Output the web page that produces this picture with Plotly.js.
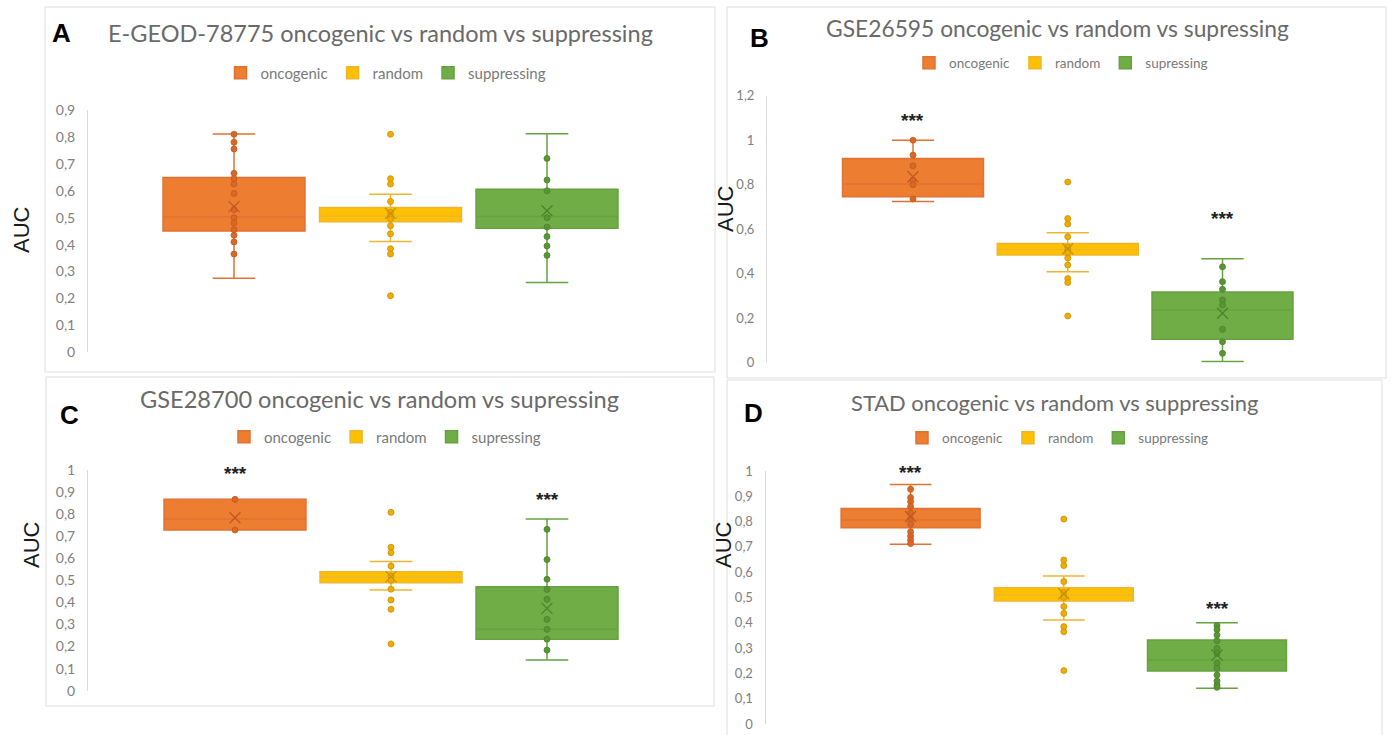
<!DOCTYPE html>
<html>
<head>
<meta charset="utf-8">
<script src="https://cdn.plot.ly/plotly-3.0.1.min.js"></script>
<style>html,body{margin:0;padding:0;background:#fff;}#chart{width:1393px;height:735px;}</style>
</head>
<body>
<div id="chart"></div>
<script>
// ---------------- DATA ----------------
const categories = ['oncogenic', 'random', 'suppressing'];
const panelLetters = ['A', 'B', 'C', 'D'];
const panelTitles = [
  'E-GEOD-78775 oncogenic vs random vs suppressing',
  'GSE26595 oncogenic vs random vs supressing',
  'GSE28700 oncogenic vs random vs supressing',
  'STAD oncogenic vs random vs suppressing'
];
const legendNamesA = ['oncogenic', 'random', 'suppressing'];
const legendNamesB = ['oncogenic', 'random', 'supressing'];
const legendNamesC = ['oncogenic', 'random', 'supressing'];
const legendNamesD = ['oncogenic', 'random', 'suppressing'];
const yTicksA = [0, 0.1, 0.2, 0.3, 0.4, 0.5, 0.6, 0.7, 0.8, 0.9];
const yTicksB = [0, 0.2, 0.4, 0.6, 0.8, 1, 1.2];
const yTicksC = [0, 0.1, 0.2, 0.3, 0.4, 0.5, 0.6, 0.7, 0.8, 0.9, 1];
const yTicksD = [0, 0.1, 0.2, 0.3, 0.4, 0.5, 0.6, 0.7, 0.8, 0.9, 1];

// Panel A: E-GEOD-78775   [oncogenic, random, suppressing]
const A_q1 = [0.451, 0.485, 0.461];
const A_median = [0.503, 0.505, 0.504];
const A_q3 = [0.649, 0.538, 0.606];
const A_lower = [0.275, 0.412, 0.259];
const A_upper = [0.811, 0.587, 0.812];
const A_mean = [0.541, 0.516, 0.526];
const A_oncPts = [0.81, 0.78, 0.755, 0.665, 0.645, 0.625, 0.59, 0.53, 0.5, 0.48, 0.455, 0.435, 0.41, 0.365];
const A_rndPts = [0.81, 0.645, 0.625, 0.56, 0.52, 0.505, 0.495, 0.47, 0.44, 0.385, 0.365, 0.21];
const A_supPts = [0.72, 0.64, 0.6, 0.5, 0.465, 0.43, 0.395, 0.36];
const A_sig = ['', '', ''];
const A_sigY = [null, null, null];

// Panel B: GSE26595
const B_q1 = [0.746, 0.484, 0.105];
const B_median = [0.803, 0.509, 0.237];
const B_q3 = [0.918, 0.536, 0.318];
const B_lower = [0.725, 0.409, 0.005];
const B_upper = [1.0, 0.584, 0.467];
const B_mean = [0.836, 0.512, 0.222];
const B_oncPts = [1.0, 0.933, 0.885, 0.82, 0.8, 0.736];
const B_rndPts = [0.812, 0.648, 0.623, 0.566, 0.52, 0.505, 0.495, 0.47, 0.439, 0.378, 0.36, 0.21];
const B_supPts = [0.431, 0.364, 0.33, 0.282, 0.259, 0.15, 0.094, 0.042];
const B_sig = ['***', '', '***'];
const B_sigY = [1.094, null, 0.654];

// Panel C: GSE28700
const C_q1 = [0.728, 0.489, 0.233];
const C_median = [0.778, 0.514, 0.278];
const C_q3 = [0.867, 0.539, 0.471];
const C_lower = [0.728, 0.456, 0.139];
const C_upper = [0.867, 0.585, 0.778];
const C_mean = [0.784, 0.517, 0.373];
const C_oncPts = [0.867, 0.728];
const C_rndPts = [0.808, 0.65, 0.625, 0.565, 0.52, 0.5, 0.46, 0.411, 0.369, 0.212];
const C_supPts = [0.731, 0.594, 0.505, 0.459, 0.414, 0.323, 0.278, 0.233, 0.184];
const C_sig = ['***', '', '***'];
const C_sigY = [0.99, null, 0.87];

// Panel D: STAD
const D_q1 = [0.776, 0.486, 0.209];
const D_median = [0.806, 0.51, 0.253];
const D_q3 = [0.852, 0.539, 0.332];
const D_lower = [0.71, 0.411, 0.141];
const D_upper = [0.947, 0.585, 0.4];
const D_mean = [0.82, 0.515, 0.273];
const D_oncPts = [0.928, 0.895, 0.879, 0.86, 0.833, 0.81, 0.79, 0.76, 0.743, 0.727, 0.713];
const D_rndPts = [0.81, 0.648, 0.626, 0.563, 0.52, 0.5, 0.464, 0.437, 0.385, 0.365, 0.211];
const D_supPts = [0.389, 0.374, 0.352, 0.329, 0.299, 0.279, 0.24, 0.22, 0.194, 0.17, 0.154, 0.145];
const D_sig = ['***', '', '***'];
const D_sigY = [0.997, null, 0.46];

// ---------------- STYLE ----------------
const W = 1393, H = 735;
const fx = p => p / W;
const fy = p => 1 - p / H;
const fillColors = ['rgb(237,125,49)', 'rgb(255,192,0)', 'rgb(112,173,71)'];
const lineColors = ['rgb(224,114,50)', 'rgb(238,182,48)', 'rgb(102,162,64)'];
const ptColors = ['rgb(222,102,35)', 'rgb(240,172,0)', 'rgb(88,150,50)'];
const meanColors = ['rgb(190,90,35)', 'rgb(200,145,0)', 'rgb(75,130,45)'];

// per-panel geometry (pixels)
const geom = [
  {axL: 88, axR: 693, c0: 234, step: 156.5, y0: 352.3, yTop: 110, yMax: 0.9, bw: 0.907, tickSize: 14,
   border: [45, 7, 715, 372], letter: [61, 33], title: [380, 33], titleSize: 23.5, legend: [386, 73], legSize: 15, auc: [21, 230]},
  {axL: 767, axR: 1369, c0: 913, step: 154.75, y0: 362.7, yTop: 95.7, yMax: 1.2, bw: 0.911, tickSize: 13,
   border: [727, 7, 1386, 378], letter: [759, 38], title: [1057, 28], titleSize: 22.8, legend: [1061, 63], legSize: 13.5, auc: [725, 209]},
  {axL: 88, axR: 694, c0: 235, step: 156, y0: 690.7, yTop: 470, yMax: 1.0, bw: 0.91, tickSize: 14,
   border: [46, 377, 714, 706], letter: [69, 415], title: [379, 399], titleSize: 23.6, legend: [385, 437], legSize: 15, auc: [31, 545]},
  {axL: 765.5, axR: 1362, c0: 910.6, step: 153.2, y0: 724, yTop: 471, yMax: 1.0, bw: 0.907, tickSize: 13,
   border: [727, 380, 1382, 740], letter: [753, 413], title: [1054, 402], titleSize: 21.9, legend: [1058, 438], legSize: 13.5, auc: [723, 545]}
];

const panels = [
  {q1: A_q1, med: A_median, q3: A_q3, lo: A_lower, hi: A_upper, mean: A_mean, pts: [A_oncPts, A_rndPts, A_supPts], names: legendNamesA, sig: A_sig, sigY: A_sigY, ticks: yTicksA},
  {q1: B_q1, med: B_median, q3: B_q3, lo: B_lower, hi: B_upper, mean: B_mean, pts: [B_oncPts, B_rndPts, B_supPts], names: legendNamesB, sig: B_sig, sigY: B_sigY, ticks: yTicksB},
  {q1: C_q1, med: C_median, q3: C_q3, lo: C_lower, hi: C_upper, mean: C_mean, pts: [C_oncPts, C_rndPts, C_supPts], names: legendNamesC, sig: C_sig, sigY: C_sigY, ticks: yTicksC},
  {q1: D_q1, med: D_median, q3: D_q3, lo: D_lower, hi: D_upper, mean: D_mean, pts: [D_oncPts, D_rndPts, D_supPts], names: legendNamesD, sig: D_sig, sigY: D_sigY, ticks: yTicksD}
];

const FONT = 'Lato, "Open Sans", sans-serif';
const traces = [];
const layout = {
  width: W, height: H,
  margin: {l: 0, r: 0, t: 0, b: 0},
  paper_bgcolor: '#fff', plot_bgcolor: 'rgba(0,0,0,0)',
  separators: ', ',
  showlegend: true,
  font: {family: FONT, color: '#777'},
  shapes: [], annotations: []
};

panels.forEach((p, i) => {
  const g = geom[i];
  const sfx = i === 0 ? '' : String(i + 1);
  const xa = 'x' + sfx, ya = 'y' + sfx;
  const legId = 'legend' + sfx;
  const left = -(g.c0 - g.axL) / g.step;
  const right = (g.axR - g.axL) / g.step + left;

  layout['xaxis' + sfx] = {
    domain: [fx(g.axL), fx(g.axR)], anchor: ya, type: 'category',
    categoryorder: 'array', categoryarray: categories,
    range: [left, right], showline: false, showgrid: false, zeroline: false,
    showticklabels: false, ticks: '', fixedrange: true
  };
  layout['yaxis' + sfx] = {
    domain: [fy(g.y0), fy(g.yTop)], anchor: xa, range: [0, g.yMax],
    tickmode: 'array', tickvals: p.ticks,
    showline: true, linecolor: '#d9d9d9', linewidth: 1,
    showgrid: false, zeroline: false, ticks: '', ticklabelstandoff: 9,
    tickfont: {family: FONT, size: g.tickSize, color: '#808080'}, fixedrange: true
  };
  layout[legId] = {
    x: fx(g.legend[0]), y: fy(g.legend[1]), xanchor: 'center', yanchor: 'middle',
    orientation: 'h', bgcolor: 'rgba(0,0,0,0)', itemclick: false, itemdoubleclick: false,
    font: {family: FONT, size: g.legSize, color: '#7a7a7a'}, tracegroupgap: 0
  };

  categories.forEach((cat, k) => {
    traces.push({
      type: 'box', name: p.names[k], legend: legId, xaxis: xa, yaxis: ya,
      x: [cat], q1: [p.q1[k]], median: [p.med[k]], q3: [p.q3[k]],
      lowerfence: [p.lo[k]], upperfence: [p.hi[k]],
      width: g.bw, whiskerwidth: 0.3, boxpoints: false,
      fillcolor: fillColors[k], line: {color: lineColors[k], width: 1.5},
      hoverinfo: 'skip'
    });
    traces.push({
      type: 'scatter', mode: 'markers', showlegend: false, xaxis: xa, yaxis: ya,
      x: p.pts[k].map(() => cat), y: p.pts[k],
      marker: {size: 6, color: ptColors[k], line: {color: meanColors[k], width: 0.8}},
      hoverinfo: 'skip'
    });
    traces.push({
      type: 'scatter', mode: 'markers', showlegend: false, xaxis: xa, yaxis: ya,
      x: [cat], y: [p.mean[k]],
      marker: {size: 11, symbol: 'x-thin-open', color: meanColors[k], line: {color: meanColors[k], width: 1.3}},
      hoverinfo: 'skip'
    });
    if (p.sig[k]) {
      layout.annotations.push({
        xref: xa, yref: ya, x: cat, y: p.sigY[k], text: '<b>' + p.sig[k] + '</b>',
        showarrow: false, yanchor: 'middle', yshift: -1,
        font: {family: 'Liberation Sans, Arial, sans-serif', size: 19, color: '#222'}
      });
    }
  });

  layout.shapes.push({
    type: 'rect', xref: 'paper', yref: 'paper', layer: 'below',
    x0: fx(g.border[0]), x1: fx(g.border[2]), y0: fy(g.border[3]), y1: fy(g.border[1]),
    line: {color: '#dedede', width: 1}, fillcolor: 'rgba(0,0,0,0)'
  });
  layout.annotations.push({
    xref: 'paper', yref: 'paper', x: fx(g.letter[0]), y: fy(g.letter[1]),
    text: '<b>' + panelLetters[i] + '</b>', showarrow: false, xanchor: 'center', yanchor: 'middle',
    font: {family: 'Liberation Sans, Arial, sans-serif', size: 26, color: '#000'}
  });
  layout.annotations.push({
    xref: 'paper', yref: 'paper', x: fx(g.title[0]), y: fy(g.title[1]),
    text: panelTitles[i], showarrow: false, xanchor: 'center', yanchor: 'middle',
    font: {family: FONT, size: g.titleSize, color: '#6a6a6a'}
  });
  layout.annotations.push({
    xref: 'paper', yref: 'paper', x: fx(g.auc[0]), y: fy(g.auc[1]),
    text: 'AUC', textangle: -90, showarrow: false, xanchor: 'center', yanchor: 'middle',
    font: {family: 'Liberation Sans, Arial, sans-serif', size: 22, color: '#1a1a1a'}
  });
});

Plotly.newPlot('chart', traces, layout, {staticPlot: true, displayModeBar: false});
</script>
</body>
</html>
